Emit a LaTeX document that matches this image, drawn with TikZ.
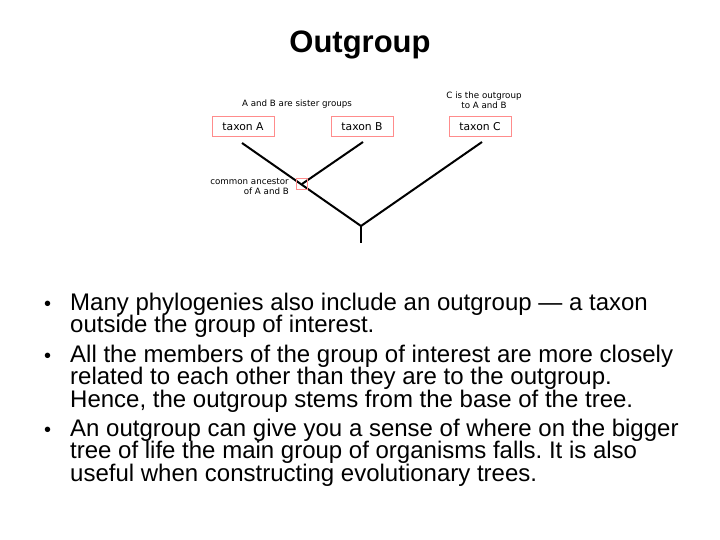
\documentclass[tikz,border=0pt]{standalone}
\usepackage{fontspec}
\setmainfont{Liberation Sans}
\setsansfont{DejaVu Sans}
\frenchspacing
\begin{document}
\begin{tikzpicture}[x=1pt,y=-1pt,
  taxon/.style={draw=red!45,line width=1pt,minimum width=62pt,minimum height=20pt,inner sep=0pt,font=\sffamily\fontsize{10.8}{12}\selectfont},
  branch/.style={line width=2pt,black},
  note/.style={font=\sffamily\fontsize{8.7}{10}\selectfont,inner sep=0pt},
  bul/.style={anchor=base west,inner sep=0pt,align=left,font=\fontsize{24}{22.5}\selectfont}]
\useasboundingbox (0,0) rectangle (720,540);
\node[font=\bfseries\fontsize{31}{34}\selectfont] (title) at (360,45) {Outgroup};
\node[taxon] (A) at (243,127) {taxon A};
\node[taxon] (B) at (362,127) {taxon B};
\node[taxon] (C) at (480,127) {taxon C};
\coordinate (a0) at (242,143);
\coordinate (b0) at (363,142);
\coordinate (c0) at (482,142);
\coordinate (anc) at (302,184);
\coordinate (root) at (361,226);
\coordinate (base) at (361,243);
\draw[branch] (a0) -- (root) -- (c0);
\draw[branch] (b0) -- (anc);
\draw[branch] (root) -- (base);
\node[draw=red!45,line width=1pt,minimum size=11pt,inner sep=0pt] (ancbox) at (302,184) {};
\node[note] (sis) at (297,104) {A and B are sister groups};
\node[note,align=center] (out) at (484,100) {C is the outgroup\\to A and B};
\node[note,align=right,anchor=east] (cm) at (289,187) {common ancestor\\of A and B};
\node[bul] (b1) at (70,332.5) {Many phylogenies also include an outgroup — a taxon\\outside the group of interest.};
\node[bul] (b2) at (70,407) {All the members of the group of interest are more closely\\related to each other than they are to the outgroup.\\Hence, the outgroup stems from the base of the tree.};
\node[bul] (b3) at (70,481) {An outgroup can give you a sense of where on the bigger\\tree of life the main group of organisms falls. It is also\\useful when constructing evolutionary trees.};
\foreach \y/\n in {310/d1,362/d2,436/d3} \node[anchor=base west,inner sep=0pt,font=\fontsize{20}{23}\selectfont] (\n) at (44,\y) {•};
\end{tikzpicture}
\end{document}
